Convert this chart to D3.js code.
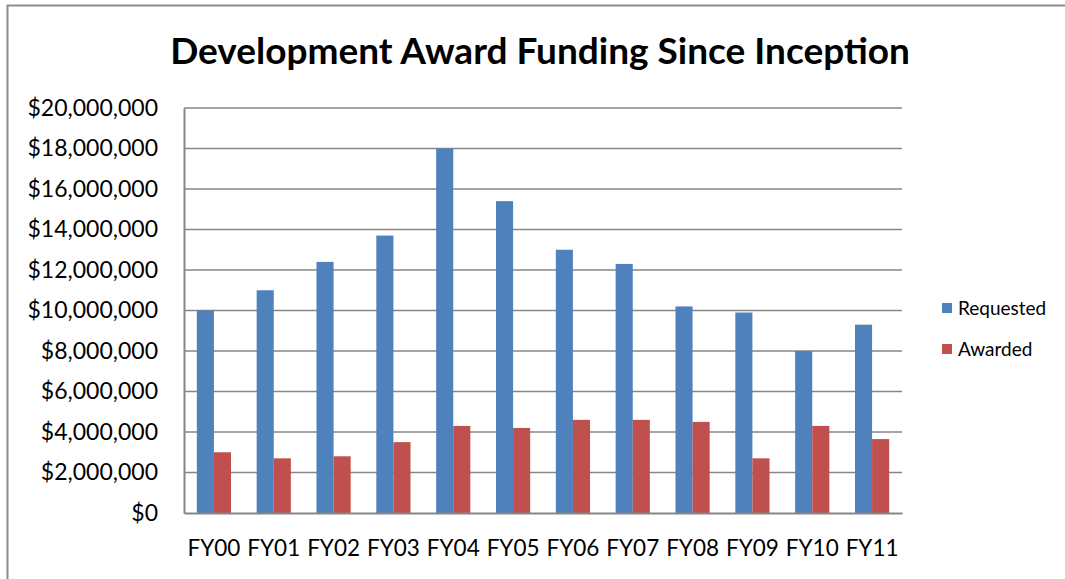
<!DOCTYPE html>
<html>
<head>
<meta charset="utf-8">
<script src="https://cdn.jsdelivr.net/npm/d3@7"></script>
<style>
  body { margin: 0; background: #fff; }
  text { font-family: Lato, "Open Sans", sans-serif; fill: #000; }
</style>
</head>
<body>
<div id="chart"></div>
<script>
// chart data
var years = ["FY00", "FY01", "FY02", "FY03", "FY04", "FY05", "FY06", "FY07", "FY08", "FY09", "FY10", "FY11"];
var requested = [10000000, 11000000, 12400000, 13700000, 18000000, 15400000, 13000000, 12300000, 10200000, 9900000, 8000000, 9300000];
var awarded = [3000000, 2700000, 2800000, 3500000, 4300000, 4200000, 4600000, 4600000, 4500000, 2700000, 4300000, 3650000];
var seriesNames = ["Requested", "Awarded"];
var yTicks = [0, 2000000, 4000000, 6000000, 8000000, 10000000, 12000000, 14000000, 16000000, 18000000, 20000000];

var colors = ["#4F81BD", "#C0504D"];

var svgWidth = 1065;
var svgHeight = 579;

var margin = { top: 108, right: 163, bottom: 66, left: 184 };
var width = svgWidth - margin.left - margin.right;
var height = svgHeight - margin.top - margin.bottom;

var svg = d3.select("#chart")
    .append("svg")
    .attr("width", svgWidth)
    .attr("height", svgHeight);

// outer frame (left + top only visible)
svg.append("path")
    .attr("d", "M7.5,579 L7.5,5.5 L1065,5.5")
    .attr("fill", "none")
    .attr("stroke", "#8c8c8c")
    .attr("stroke-width", 2);

svg.append("text")
    .attr("x", 540)
    .attr("y", 64)
    .attr("text-anchor", "middle")
    .style("font-size", "37px")
    .style("font-weight", "bold")
    .text("Development Award Funding Since Inception");

var chartGroup = svg.append("g")
    .attr("transform", `translate(${margin.left}, ${margin.top})`);

var x0 = d3.scaleBand()
    .domain(years)
    .range([0, width])
    .paddingInner(0)
    .paddingOuter(0);

var barW = x0.bandwidth() / 3.5;

var y = d3.scaleLinear()
    .domain([0, 20000000])
    .range([height, 0]);

// gridlines
chartGroup.selectAll(".grid")
    .data(yTicks.slice(1))
    .enter()
    .append("line")
    .attr("x1", 0)
    .attr("x2", width)
    .attr("y1", d => y(d))
    .attr("y2", d => y(d))
    .attr("stroke", "#868686")
    .attr("stroke-width", 1.3);

var rows = years.map(function(yr, i) {
    return { year: yr, values: [requested[i], awarded[i]] };
});

var groups = chartGroup.selectAll(".yr")
    .data(rows)
    .enter()
    .append("g")
    .attr("transform", d => `translate(${x0(d.year) + x0.bandwidth() / 2 - barW}, 0)`);

groups.selectAll("rect")
    .data(d => d.values)
    .enter()
    .append("rect")
    .attr("x", (d, i) => i * barW)
    .attr("y", d => y(d))
    .attr("width", barW)
    .attr("height", d => height - y(d))
    .attr("fill", (d, i) => colors[i]);

// axes
var leftAxis = d3.axisLeft(y)
    .tickValues(yTicks)
    .tickSize(0)
    .tickPadding(26)
    .tickFormat(d => "$" + d3.format(",")(d));

var yAxisG = chartGroup.append("g").call(leftAxis);
yAxisG.select(".domain").attr("stroke", "#868686").attr("stroke-width", 2);
yAxisG.selectAll("text").style("font-size", "23px").attr("fill", "#000");

var bottomAxis = d3.axisBottom(x0).tickSize(0).tickPadding(27);
var xAxisG = chartGroup.append("g")
    .attr("transform", `translate(0, ${height})`)
    .call(bottomAxis);
xAxisG.select(".domain").attr("stroke", "#868686").attr("stroke-width", 2);
xAxisG.selectAll("text").style("font-size", "22.5px").attr("fill", "#000");

// legend
var legend = svg.selectAll(".legend")
    .data(seriesNames)
    .enter()
    .append("g")
    .attr("transform", (d, i) => `translate(942, ${303 + i * 41})`);

legend.append("rect")
    .attr("width", 10)
    .attr("height", 10)
    .attr("fill", (d, i) => colors[i]);

legend.append("text")
    .attr("x", 16)
    .attr("y", 12)
    .style("font-size", "19px")
    .text(d => d);
</script>
</body>
</html>
